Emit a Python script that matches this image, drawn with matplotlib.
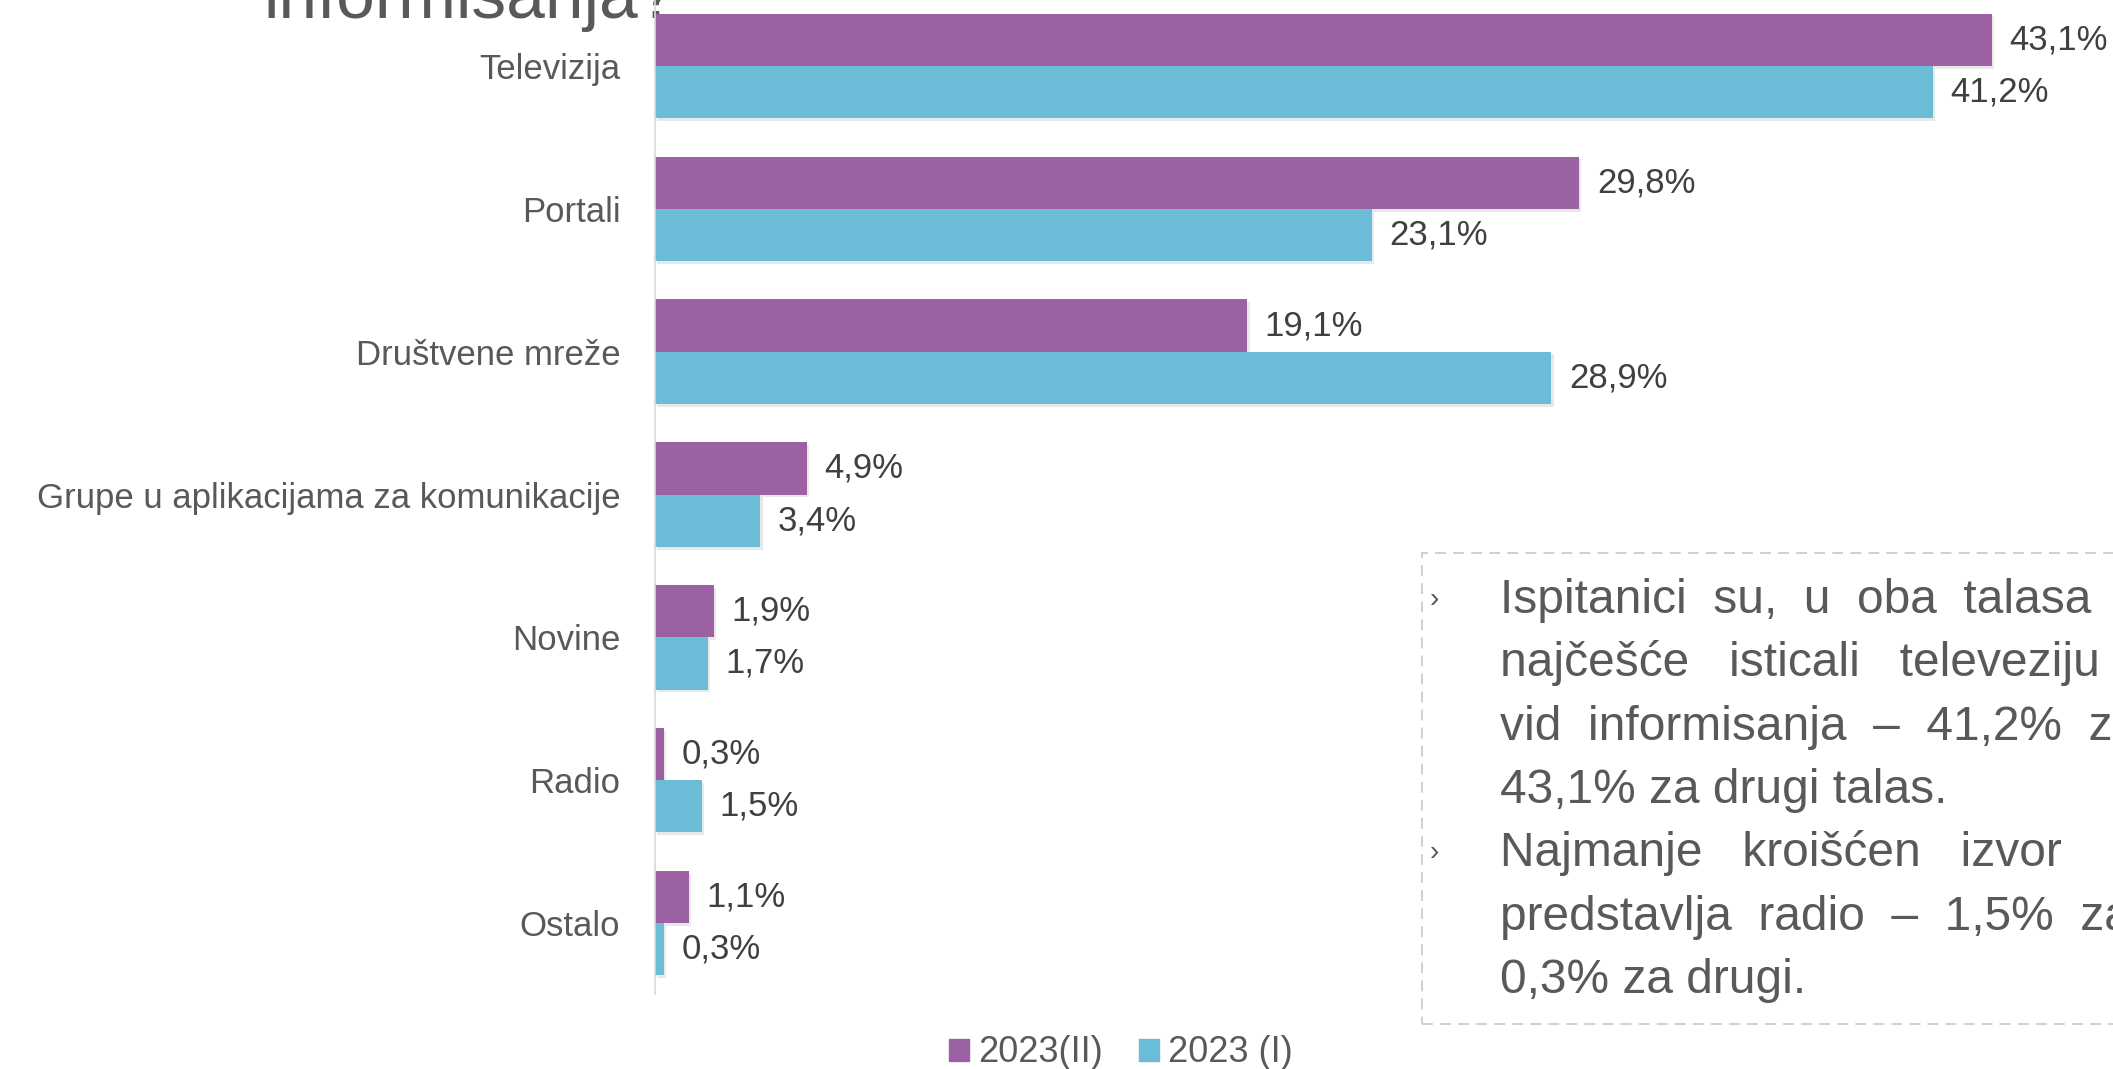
import matplotlib
matplotlib.use("Agg")
import matplotlib.pyplot as plt
import matplotlib.patches as mpatches
import matplotlib.patheffects as pe

# data
categories = ["Televizija", "Portali", "Društvene mreže",
              "Grupe u aplikacijama za komunikacije", "Novine", "Radio", "Ostalo"]
wave2 = [43.1, 29.8, 19.1, 4.9, 1.9, 0.3, 1.1]   # 2023(II)
wave1 = [41.2, 23.1, 28.9, 3.4, 1.7, 1.5, 0.3]   # 2023 (I)
series_names = ["2023(II)", "2023 (I)"]

title_tail = "informisanja?"
# justified lines of the comment box (extra spaces stand in for justification)
box_lines = [
    "Ispitanici  su,  u  oba  talasa  istraživanja,",
    "najčešće   isticali   televeziju   kao",
    "vid  informisanja  –  41,2%  za  prvi  i",
    "43,1% za drugi talas.",
    "Najmanje   kroišćen   izvor",
    "predstavlja  radio  –  1,5%  za  prvi  talas  i",
    "0,3% za drugi.",
]
bullet_rows = [0, 4]

PURPLE = "#9C61A2"
CYAN = "#6BBCD6"
GREY = "#595959"
DARK = "#404040"

W, H = 2113, 1069
fig = plt.figure(figsize=(W / 100, H / 100), dpi=100)
ax = fig.add_axes([655 / W, 75 / H, 1 - 655 / W, 994 / H])

h = 0.366
ypos = list(range(len(categories)))
shadow = [pe.SimplePatchShadow(offset=(1.5, -2), shadow_rgbFace="#808080", alpha=0.18), pe.Normal()]
b2 = ax.barh([y - h / 2 for y in ypos], wave2, height=h, color=PURPLE, label=series_names[0])
b1 = ax.barh([y + h / 2 for y in ypos], wave1, height=h, color=CYAN, label=series_names[1])
for bars in (b2, b1):
    for r in bars:
        r.set_path_effects(shadow)

for bars, vals in ((b2, wave2), (b1, wave1)):
    for r, v in zip(bars, vals):
        ax.annotate(("%.1f%%" % v).replace(".", ","),
                    xy=(r.get_width(), r.get_y() + r.get_height() / 2),
                    xytext=(12.5, 0), textcoords="offset points",
                    va="center", ha="left", fontsize=25, color=DARK,
                    family="Liberation Sans")

ax.set_xlim(0, (W - 655) / 31.02)
ax.set_ylim(6.497, -0.462)
ax.set_yticks(ypos)
ax.set_yticklabels(categories, fontsize=25, color=GREY, family="Liberation Sans")
ax.tick_params(axis="y", length=0, pad=25)
ax.set_xticks([])
for s in ["top", "right", "bottom"]:
    ax.spines[s].set_visible(False)
ax.spines["left"].set_color("#d9d9d9")
ax.spines["left"].set_linewidth(1.2)
ax.patch.set_alpha(0)

# cut-off title, sits behind the bars
fig.text(263 / W, 1 - 18 / H, title_tail, fontsize=50, color=GREY,
         va="baseline", ha="left", family="Liberation Sans", zorder=-1)

# dashed comment box
box = mpatches.Rectangle((1422 / W, 1 - 1024 / H), 0.4, (1024 - 553) / H,
                         transform=fig.transFigure, fill=False,
                         edgecolor="#cccccc", linewidth=1.3,
                         linestyle=(0, (6, 4)))
fig.patches.append(box)
for i, line in enumerate(box_lines):
    base = 613 + 63.3 * i
    fig.text(1500 / W, 1 - base / H, line, fontsize=34.5, color=GREY,
             va="baseline", ha="left", family="Liberation Sans")
    if i in bullet_rows:
        fig.text(1430 / W, 1 - (base - 6) / H, "›", fontsize=20, color=GREY,
                 va="baseline", ha="left", family="Liberation Sans")

handles = [mpatches.Patch(color=PURPLE), mpatches.Patch(color=CYAN)]
leg = fig.legend(handles, series_names, loc="center", bbox_to_anchor=(1121 / W, 1 - 1053 / H),
                 ncol=2, frameon=False, handlelength=0.55, handleheight=0.55,
                 handletextpad=0.25, columnspacing=1.0, prop={"family": "Liberation Sans", "size": 26})
for t in leg.get_texts():
    t.set_color(GREY)

fig.savefig("out.png")
